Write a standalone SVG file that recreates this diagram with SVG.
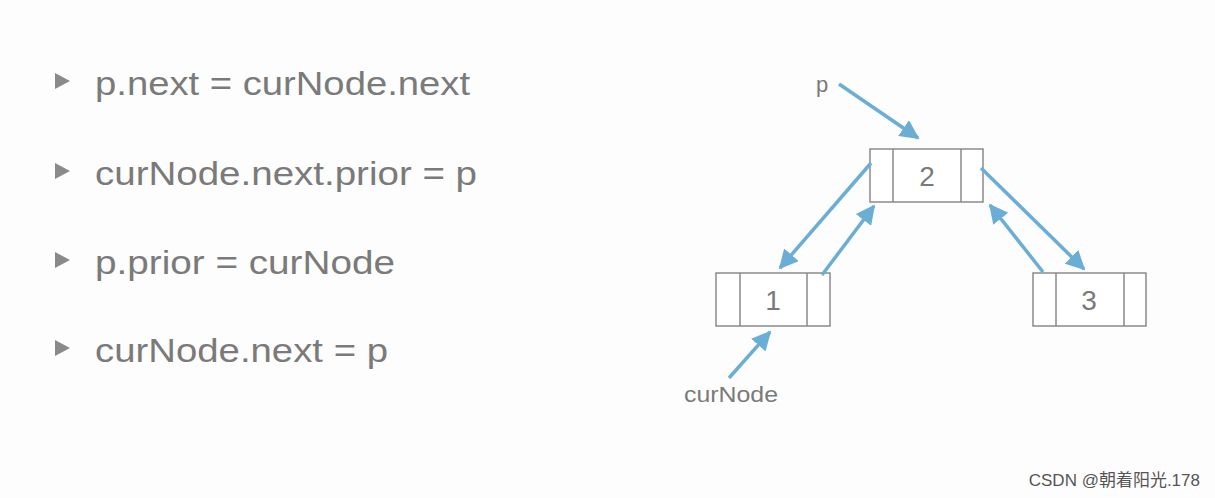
<svg xmlns="http://www.w3.org/2000/svg" width="1215" height="498" viewBox="0 0 1215 498">
<style>
.t{font-family:"Liberation Sans",Arial,sans-serif;fill:#7a7a7a}
.code{font-size:34px}
.lbl{font-size:22px}
.num{font-size:28px}
.box{fill:#fff;stroke:#8a8a8a;stroke-width:1.5}
.c{stroke:#6aaed6;stroke-width:3.5;fill:none;marker-end:url(#ah)}
.bul{fill:#8a8a8a}
</style>
<defs>
<marker id="ah" markerWidth="5.5" markerHeight="5.5" refX="5" refY="2.75" orient="auto"><path d="M0,0 L5.5,2.75 L0,5.5 z" fill="#6aaed6"/></marker>
</defs>
<rect width="1215" height="498" fill="#fdfdfd"/>
<g id="code">
<path class="bul" d="M55,73 L70,81 L55,89 z"/>
<text class="t code" x="95" y="95" textLength="375" lengthAdjust="spacingAndGlyphs">p.next = curNode.next</text>
<path class="bul" d="M55,163 L70,171 L55,179 z"/>
<text class="t code" x="95" y="185" textLength="382" lengthAdjust="spacingAndGlyphs">curNode.next.prior = p</text>
<path class="bul" d="M55,252 L70,260 L55,268 z"/>
<text class="t code" x="95" y="274" textLength="300" lengthAdjust="spacingAndGlyphs">p.prior = curNode</text>
<path class="bul" d="M55,340 L70,348 L55,356 z"/>
<text class="t code" x="95" y="362" textLength="293" lengthAdjust="spacingAndGlyphs">curNode.next = p</text>
</g>
<g id="node2">
<rect class="box" x="870" y="149" width="113" height="53"/>
<line class="box" x1="893" y1="149" x2="893" y2="202"/>
<line class="box" x1="961" y1="149" x2="961" y2="202"/>
<text class="t num" x="927" y="186" text-anchor="middle">2</text>
</g>
<g id="node1">
<rect class="box" x="716" y="273" width="114" height="53"/>
<line class="box" x1="740" y1="273" x2="740" y2="326"/>
<line class="box" x1="807" y1="273" x2="807" y2="326"/>
<text class="t num" x="773" y="310" text-anchor="middle">1</text>
</g>
<g id="node3">
<rect class="box" x="1033" y="273" width="113" height="53"/>
<line class="box" x1="1056" y1="273" x2="1056" y2="326"/>
<line class="box" x1="1124" y1="273" x2="1124" y2="326"/>
<text class="t num" x="1089" y="310" text-anchor="middle">3</text>
</g>
<g id="labels">
<text class="t lbl" x="816" y="92">p</text>
<text class="t lbl" x="684" y="402" textLength="94" lengthAdjust="spacingAndGlyphs">curNode</text>
<text x="1200" y="486" text-anchor="end" style="font-family:'Liberation Sans','Noto Sans CJK SC',sans-serif;font-size:17px;fill:#555">CSDN @朝着阳光.178</text>
</g>
<g id="connectors">
<line class="c" x1="839" y1="84" x2="918" y2="138"/>
<line class="c" x1="871" y1="163" x2="780" y2="268"/>
<line class="c" x1="822" y1="275" x2="874" y2="206"/>
<line class="c" x1="981" y1="168" x2="1084" y2="269"/>
<line class="c" x1="1043" y1="272" x2="990" y2="205"/>
<line class="c" x1="729" y1="378" x2="770" y2="332"/>
</g>
</svg>
